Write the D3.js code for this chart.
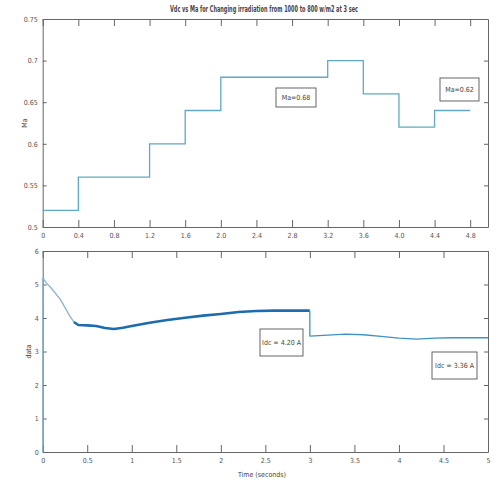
<!DOCTYPE html>
<html>
<head>
<meta charset="utf-8">
<script src="https://cdn.jsdelivr.net/npm/d3@7"></script>
<style>
  html, body { margin: 0; padding: 0; background: #fff; }
  svg { display: block; }
  .tick text { font-family: "Liberation Sans Narrow", "DejaVu Sans Condensed", "Arial Narrow", sans-serif; font-size: 7px; fill: #555; }
  .domain, .tick line { stroke: #666; }
  .lbl { font-family: "Liberation Sans Narrow", "DejaVu Sans Condensed", "Arial Narrow", sans-serif; fill: #444; }
</style>
</head>
<body>
<svg id="chart" width="496" height="479"></svg>
<script>
// ---------- data ----------
const titleText = "Vdc vs Ma for Changing irradiation from 1000 to 800 w/m2 at 3 sec";

// Top panel: modulation index Ma (step changes)
const maTime   = [0, 0.4, 1.2, 1.6, 2.0, 3.2, 3.6, 4.0, 4.4, 4.8];
const maValues = [0.52, 0.56, 0.60, 0.64, 0.68, 0.70, 0.66, 0.62, 0.64, 0.64];
const maXTicks = [0, 0.4, 0.8, 1.2, 1.6, 2.0, 2.4, 2.8, 3.2, 3.6, 4.0, 4.4, 4.8];
const maXTickLabels = ["0", "0.4", "0.8", "1.2", "1.6", "2.0", "2.4", "2.8", "3.2", "3.6", "4.0", "4.4", "4.8"];
const maYTicks = [0.5, 0.55, 0.6, 0.65, 0.7, 0.75];
const maYTickLabels = ["0.5", "0.55", "0.6", "0.65", "0.7", "0.75"];

// Bottom panel: Vdc / data vs time
const vdcTime   = [0, 0.001, 0.05, 0.1, 0.2, 0.3, 0.35, 0.4, 0.5, 0.6, 0.7, 0.8, 0.9, 1.0, 1.2, 1.4, 1.6, 1.8, 2.0, 2.2, 2.4, 2.6, 2.8, 2.999, 3.0, 3.2, 3.4, 3.6, 3.8, 4.0, 4.2, 4.4, 4.6, 4.8, 5.0];
const vdcValues = [0, 5.2, 5.02, 4.88, 4.55, 4.08, 3.88, 3.79, 3.78, 3.76, 3.70, 3.67, 3.71, 3.76, 3.86, 3.94, 4.01, 4.07, 4.12, 4.18, 4.21, 4.22, 4.22, 4.22, 3.46, 3.49, 3.52, 3.50, 3.45, 3.40, 3.37, 3.40, 3.41, 3.41, 3.41];
const vdcXTicks = [0, 0.5, 1, 1.5, 2, 2.5, 3, 3.5, 4, 4.5, 5];
const vdcXTickLabels = ["0", "0.5", "1", "1.5", "2", "2.5", "3", "3.5", "4", "4.5", "5"];
const vdcYTicks = [0, 1, 2, 3, 4, 5, 6];
const vdcYTickLabels = ["0", "1", "2", "3", "4", "5", "6"];

const noteTexts = ["Ma=0.68", "Ma=0.62", "Idc = 4.20 A", "Idc = 3.36 A"];

// ---------- layout ----------
const svg = d3.select("#chart");
const left = 42.7, right = 488;
const top1 = 19, bot1 = 227;
const top2 = 251, bot2 = 452;

const x = d3.scaleLinear().domain([0, 5]).range([left, right]);
const y1 = d3.scaleLinear().domain([0.5, 0.75]).range([bot1, top1]);
const y2 = d3.scaleLinear().domain([0, 6]).range([bot2, top2]);

function drawAxes(y, top, bot, xTicks, xLabels, yTicks, yLabels, yPad) {
  const g = svg.append("g");
  g.append("g").attr("transform", `translate(0,${bot})`)
    .call(d3.axisBottom(x).tickValues(xTicks).tickFormat((d, i) => xLabels[i]).tickSizeInner(-7).tickSizeOuter(0).tickPadding(6));
  g.append("g").attr("transform", `translate(0,${top})`)
    .call(d3.axisTop(x).tickValues(xTicks).tickFormat("").tickSizeInner(-7).tickSizeOuter(0));
  g.append("g").attr("transform", `translate(${left},0)`)
    .call(d3.axisLeft(y).tickValues(yTicks).tickFormat((d, i) => yLabels[i]).tickSizeInner(-4).tickSizeOuter(0).tickPadding(yPad));
  g.append("g").attr("transform", `translate(${right},0)`)
    .call(d3.axisRight(y).tickValues(yTicks).tickFormat("").tickSizeInner(-4).tickSizeOuter(0));
  g.selectAll(".tick text").attr("font-size", null);
  return g;
}

drawAxes(y1, top1, bot1, maXTicks, maXTickLabels, maYTicks, maYTickLabels, 5);
drawAxes(y2, top2, bot2, vdcXTicks, vdcXTickLabels, vdcYTicks, vdcYTickLabels, 4);

// Title
svg.append("text").attr("class", "lbl")
  .attr("x", 264).attr("y", 12).attr("text-anchor", "middle")
  .attr("font-size", 8).attr("font-weight", "bold").attr("fill", "#222")
  .attr("textLength", 188).attr("lengthAdjust", "spacingAndGlyphs")
  .text(titleText);

// Axis labels
svg.append("text").attr("class", "lbl")
  .attr("transform", `translate(27,${(top1 + bot1) / 2}) rotate(-90)`)
  .attr("text-anchor", "middle").attr("font-size", 7).text("Ma");
svg.append("text").attr("class", "lbl")
  .attr("transform", `translate(31,${(top2 + bot2) / 2}) rotate(-90)`)
  .attr("text-anchor", "middle").attr("font-size", 7).text("data");
svg.append("text").attr("class", "lbl")
  .attr("x", 262).attr("y", 477).attr("text-anchor", "middle")
  .attr("font-size", 7).text("Time (seconds)");

// Ma step line
const maData = maTime.map((t, i) => [t, maValues[i]]);
svg.append("path")
  .datum(maData)
  .attr("fill", "none").attr("stroke", "#5fa9c6").attr("stroke-width", 1.3)
  .attr("d", d3.line().x(d => x(d[0])).y(d => y1(d[1])).curve(d3.curveStepAfter));

// Vdc line, drawn in three styled segments
const vdcData = vdcTime.map((t, i) => [t, vdcValues[i]]);
const line2 = d3.line().x(d => x(d[0])).y(d => y2(d[1]));
const segs = [
  {from: 0, to: 0.35, color: "#8db3cb", width: 1.3},
  {from: 0.35, to: 2.999, color: "#1d6cb0", width: 2.6},
  {from: 2.999, to: 5, color: "#3d93c4", width: 1.3}
];
segs.forEach(s => {
  svg.append("path")
    .datum(vdcData.filter(d => d[0] >= s.from && d[0] <= s.to))
    .attr("fill", "none").attr("stroke", s.color).attr("stroke-width", s.width)
    .attr("stroke-linejoin", "round")
    .attr("d", line2);
});

// Annotation boxes
const noteBoxes = [
  {x0: 276, y0: 88, w: 40, h: 19},
  {x0: 440, y0: 78, w: 39, h: 23},
  {x0: 260, y0: 329, w: 43, h: 27},
  {x0: 432, y0: 352, w: 45, h: 27}
];
noteBoxes.forEach((b, i) => {
  svg.append("rect").attr("x", b.x0).attr("y", b.y0).attr("width", b.w).attr("height", b.h)
    .attr("fill", "#fff").attr("stroke", "#555").attr("stroke-width", 0.9);
  svg.append("text").attr("class", "lbl")
    .attr("x", b.x0 + b.w / 2).attr("y", b.y0 + b.h / 2 + 2.5)
    .attr("text-anchor", "middle").attr("font-size", 7).attr("fill", "#333")
    .text(noteTexts[i]);
});
</script>
</body>
</html>
